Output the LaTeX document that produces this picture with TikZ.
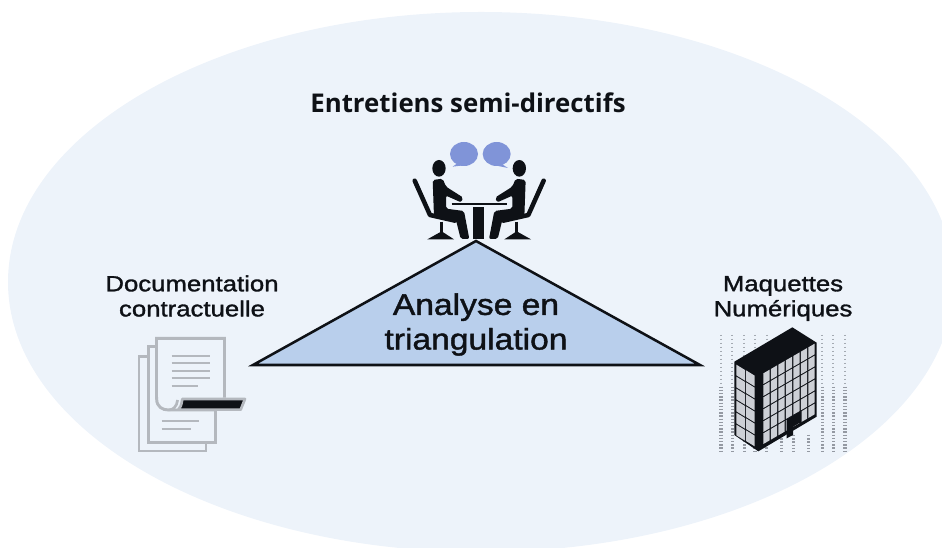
\documentclass[tikz,border=0pt]{standalone}
\usepackage{fontspec}
\setmainfont{Liberation Sans}
\newfontfamily\titlefont{Open Sans}
\newfontfamily\labelfont[FakeStretch=1.17,FakeBold=1.4]{Liberation Sans}
\newfontfamily\biglabelfont[FakeStretch=1.13,FakeBold=1.4]{Liberation Sans}
\definecolor{bgblue}{HTML}{EDF3FA}
\definecolor{triblue}{HTML}{B9CFEC}
\definecolor{ink}{HTML}{0E1116}
\definecolor{bubble}{HTML}{8094D8}
\definecolor{paper}{HTML}{B4B8BE}
\definecolor{wingrey}{HTML}{CDD0D6}
\definecolor{noise}{HTML}{7E838C}
\tikzset{
 x=0.75pt,y=-0.75pt,
 lbl/.style={font=\labelfont\fontsize{16.5}{18.8}\selectfont,text=ink,align=center,inner sep=0pt},
 biglbl/.style={font=\biglabelfont\fontsize{22.3}{26}\selectfont,text=ink,align=center,inner sep=0pt},
 ttl/.style={font=\titlefont\bfseries\fontsize{19.35}{22}\selectfont,text=ink,inner sep=0pt},
 tri/.style={draw=ink,line width=1.9pt,fill=triblue,line join=miter},
 zoomed/.style={x=0.25pt,y=-0.25pt},
 sheet/.style={draw=paper,line width=2.2pt,fill=bgblue},
 rule/.style={draw=paper,line width=1.6pt},
 seat/.style={draw=ink,line width=3.4pt,line cap=round,line join=round},
 noisecol/.style={draw=noise,line width=2.6pt,dash pattern=on 1pt off 1.4pt,opacity=.8},
 noisetop/.style={draw=noise,line width=1.4pt,dash pattern=on 1pt off 2pt,opacity=.65},
}
\begin{document}
\begin{tikzpicture}
\useasboundingbox (0,0) rectangle (942,548);
\begin{scope}
\clip (0,0) rectangle (942,548);
\fill[bgblue] (481,282) ellipse [x radius=473,y radius=270];
\end{scope}

% triangle
\coordinate (apex) at (476,241);
\coordinate (bl) at (253,365);
\coordinate (br) at (700,365);
\draw[tri] (apex) -- (br) -- (bl) -- cycle;

% texts
\node[ttl] (title) at (468,103) {Entretiens semi-directifs};
\node[biglbl] (centre) at (476,324.5) {Analyse en\\triangulation};
\node[lbl] (docs) at (192,296) {Documentation\\contractuelle};
\node[lbl] (bim) at (783,298.5) {Maquettes\\Numériques};

% interview icon
\begin{scope}[shift={(400,130)},zoomed]
 \fill[bubble] (192,72) ellipse [x radius=42,y radius=36];
 \fill[bubble] (172,100) -- (158,110) -- (190,106) -- cycle;
 \fill[bubble] (290,72) ellipse [x radius=42,y radius=36];
 \fill[bubble] (305,102) -- (324,114) -- (285,106) -- cycle;
 \foreach \m/\o in {1/0,-1/475}{
 \begin{scope}[xshift=\o*0.25pt,xscale=\m]
  \fill[ink] (117,115) ellipse [x radius=20,y radius=25];
  \fill[ink,rounded corners=1.5pt] (98,150) -- (128,146) -- (138,170) -- (190,203) -- (183,217) -- (138,197) -- (138,236) -- (192,243) -- (208,327) -- (182,327) -- (168,270) -- (102,260) -- cycle;
  \draw[seat] (44,152) -- (90,255) -- (165,272);
  \draw[ink,line width=2.2pt] (125,275) -- (125,312);
  \fill[ink] (125,304) -- (162,328) -- (82,328) -- cycle;
 \end{scope}}
 \draw[ink,line width=2.2pt] (155,222) -- (320,222);
 \fill[ink] (219,230) rectangle (252,327);
\end{scope}

% documents icon
\begin{scope}[shift={(125,325)},zoomed]
 \draw[sheet] (42,95) rectangle (243,378);
 \draw[sheet] (70,65) rectangle (272,352);
 \draw[sheet] (298,218) -- (298,40) -- (95,40) -- (95,222) .. controls (95,245) and (112,255) .. (130,255) -- (272,255);
 \fill[bgblue] (99,44) rectangle (294,215);
 \draw[rule] (140,93) -- (255,93);
 \draw[rule] (140,115) -- (255,115);
 \draw[rule] (140,138) -- (255,138);
 \draw[rule] (140,160) -- (255,160);
 \draw[rule] (140,182) -- (218,182);
 \draw[rule] (110,288) -- (222,288);
 \draw[rule] (110,311) -- (197,311);
 \draw[paper,line width=2pt] (130,255) .. controls (145,255) and (155,245) .. (158,225);
 \draw[paper,line width=2pt,fill=ink,line join=round] (172,222) -- (360,222) -- (347,254) -- (160,254) .. controls (168,244) .. (172,222) -- cycle;
\end{scope}

% building icon
\begin{scope}[shift={(705,320)},zoomed]
 \foreach \cx in {48,82,118,150,185,352,385,420}{
  \draw[noisetop] (\cx,45) -- (\cx,200);
  \draw[noisecol] (\cx,200) -- (\cx,395);
 }
 \foreach \cx in {230,265,310}{
  \draw[noisecol] (\cx,345) -- (\cx,395);
 }
 \fill[ink] (88,125) -- (262,22) -- (335,68) -- (335,290) -- (160,394) -- (88,345) -- cycle;
 % left-face windows
 \foreach \r in {0,...,5}{
  \foreach \c in {0,1}{
   \fill[wingrey] ({94+\c*29},{134+\r*36+\c*17}) -- ({120+\c*29},{150+\r*36+\c*17}) -- ({120+\c*29},{182+\r*36+\c*17}) -- ({94+\c*29},{166+\r*36+\c*17}) -- cycle;
  }
 }
 % right-face windows
 \foreach \r in {0,...,5}{
  \foreach \c in {0,...,6}{
   \fill[wingrey] ({175+\c*22.5},{160+\r*36-\c*13}) -- ({194+\c*22.5},{149+\r*36-\c*13}) -- ({194+\c*22.5},{181+\r*36-\c*13}) -- ({175+\c*22.5},{192+\r*36-\c*13}) -- cycle;
  }
 }
 % door
 \fill[ink] (245,298) -- (290,272) -- (290,305) -- (264,320) -- (264,345) -- (245,355) -- cycle;
\end{scope}
\end{tikzpicture}
\end{document}
